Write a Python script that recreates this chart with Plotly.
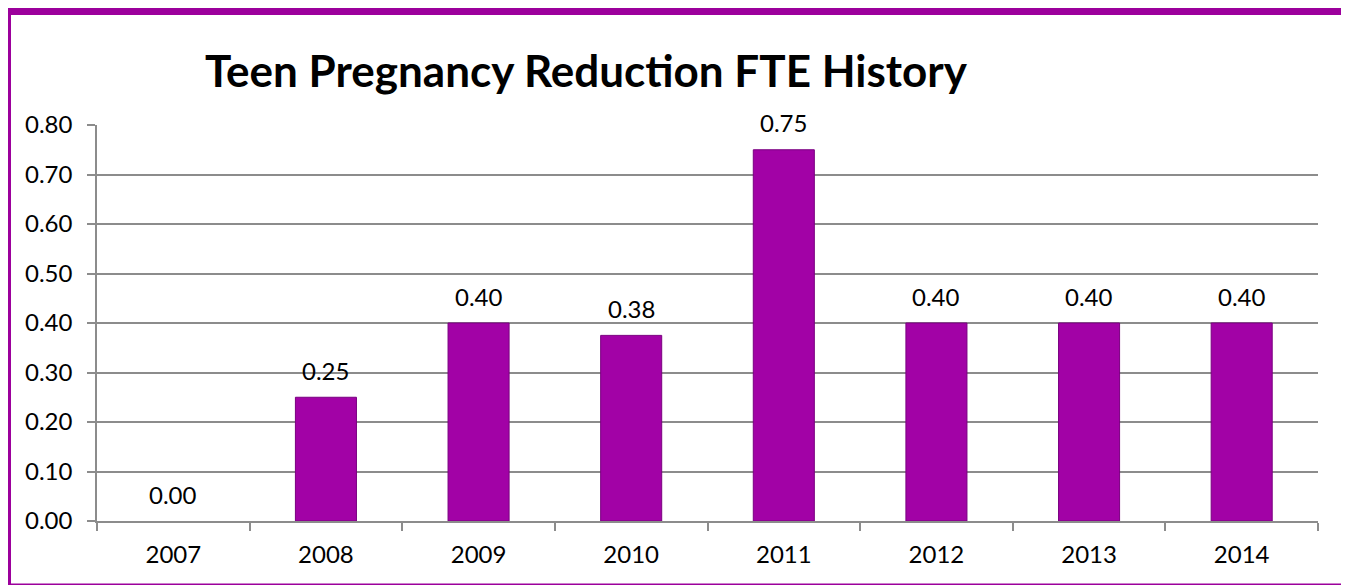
import plotly.graph_objects as go

years = ["2007", "2008", "2009", "2010", "2011", "2012", "2013", "2014"]
fte = [0.0, 0.25, 0.40, 0.375, 0.75, 0.40, 0.40, 0.40]
labels = ["0.00", "0.25", "0.40", "0.38", "0.75", "0.40", "0.40", "0.40"]
y_ticks = [0.0, 0.1, 0.2, 0.3, 0.4, 0.5, 0.6, 0.7, 0.8]
y_tick_text = ["0.00", "0.10", "0.20", "0.30", "0.40", "0.50", "0.60", "0.70", "0.80"]
title_text = "Teen Pregnancy Reduction FTE History"

O = 8  # page body margin offset
W, H = 1349 - O, 585 - O
L, T = 97 - O, 125 - O
R = (1349 - O) - (1318 - O)
B = (585 - O) - (521 - O)
pw, ph = W - L - R, H - T - B
FONT = "Lato, Carlito, Calibri, sans-serif"

fig = go.Figure()
fig.add_trace(go.Bar(
    x=years, y=fte, width=0.4,
    marker=dict(color="#A202A6",
                line=dict(color="#7A0080", width=[1 if v > 0 else 0 for v in fte])),
    hoverinfo="x+y",
))

for i, (v, lab) in enumerate(zip(fte, labels)):
    fig.add_annotation(x=i, y=v, text=lab, showarrow=False, yanchor="middle",
                       yshift=27, font=dict(family=FONT, size=24, color="#000"))

def px_x(p):
    return (p - O - L) / pw

def px_y(p):
    return (H - B - (p - O)) / ph

# outer purple frame
fig.add_shape(type="rect", xref="paper", yref="paper",
              x0=px_x(7.5), x1=px_x(1347.5), y0=px_y(587), y1=px_y(11.5),
              line=dict(color="#9C009C", width=7), layer="above")

fig.update_layout(
    width=W, height=H,
    margin=dict(l=L, r=R, t=T, b=B, autoexpand=False),
    paper_bgcolor="white", plot_bgcolor="white",
    showlegend=False,
    bargap=0.6,
    font=dict(family=FONT, size=24, color="#000"),
    title=dict(text="<b>" + title_text + "</b>", xref="container", yref="container",
               x=(205 - O) / W, xanchor="left", y=1 - (72 - O) / H, yanchor="middle",
               font=dict(family=FONT, size=44, color="#000"), automargin=False),
    xaxis=dict(type="category", range=[-0.5, len(years) - 0.5],
               showgrid=False, showline=True, linecolor="#8C8C8C", linewidth=1.5,
               ticks="outside", ticklen=8, tickcolor="#8C8C8C", tickwidth=1.5,
               tickson="boundaries", tickfont=dict(family=FONT, size=24),
               ticklabelstandoff=11, automargin=False, tickangle=0),
    yaxis=dict(range=[0, 0.8], tickvals=y_ticks, ticktext=y_tick_text,
               showgrid=True, gridcolor="#8C8C8C", gridwidth=1.5,
               showline=True, linecolor="#8C8C8C", linewidth=1.5,
               ticks="outside", ticklen=8, tickcolor="#8C8C8C", tickwidth=1.5,
               tickfont=dict(family=FONT, size=24), zeroline=False,
               ticklabelstandoff=10, automargin=False),
)

fig.write_html("out.html")
